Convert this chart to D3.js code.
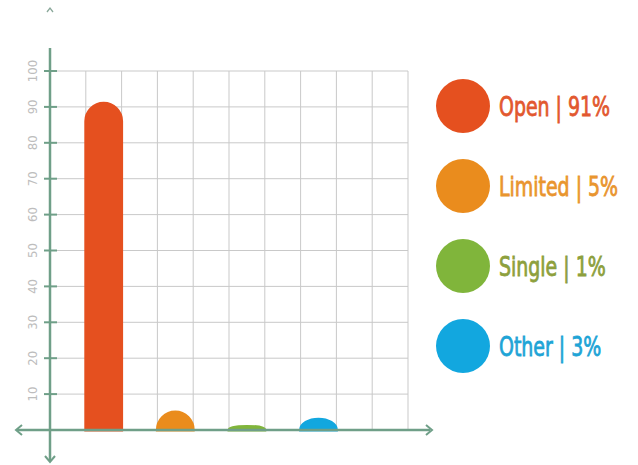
<!DOCTYPE html>
<html>
<head>
<meta charset="utf-8">
<script src="https://cdn.jsdelivr.net/npm/d3@7"></script>
<style>
  body { margin: 0; background: #fff; }
  .tick-label { font-family: "DejaVu Sans Condensed", "DejaVu Sans", sans-serif; font-size: 13px; fill: #bdbdbd; }
  .legend-text { font-family: "DejaVu Sans Condensed", "DejaVu Sans", sans-serif; font-size: 27px; stroke-width: 0.8px; }
</style>
</head>
<body>
<div id="chart"></div>
<script>
var categories = ["Open", "Limited", "Single", "Other"];
var values = [91, 5, 1, 3];
var colors = ["#e5501f", "#ea8c1d", "#80b53b", "#12a7df"];
var textColors = ["#e2582f", "#e9952f", "#8da03d", "#1ea4d6"];
var yTicks = [10, 20, 30, 40, 50, 60, 70, 80, 90, 100];

var width = 638;
var height = 465;
var axisColor = "#6f9f88";

var svg = d3.select("#chart").append("svg")
  .attr("width", width)
  .attr("height", height);

/* Scales */
var yScale = d3.scaleLinear()
  .domain([0, 100])
  .range([430, 71]);

// 10 grid columns, bars sit in every other column
var gridX = d3.scaleLinear()
  .domain([0, 10])
  .range([50, 408]);

var xScale = d3.scaleBand()
  .domain(categories)
  .range([gridX(1), gridX(8)])
  .paddingInner(0.5)
  .paddingOuter(0);

/* Grid */
var grid = svg.append("g").attr("class", "grid");

grid.selectAll(".hline")
  .data(yTicks).enter()
  .append("line")
  .attr("x1", gridX(0))
  .attr("x2", gridX(10))
  .attr("y1", d => yScale(d))
  .attr("y2", d => yScale(d))
  .attr("stroke", "#c9c9c9")
  .attr("stroke-width", 1);

grid.selectAll(".vline")
  .data(d3.range(1, 11)).enter()
  .append("line")
  .attr("x1", d => gridX(d))
  .attr("x2", d => gridX(d))
  .attr("y1", yScale(100))
  .attr("y2", yScale(0))
  .attr("stroke", "#c9c9c9")
  .attr("stroke-width", 1);

/* Bars with rounded tops */
function barPath(d, i) {
  var x0 = xScale(categories[i]);
  var w = xScale.bandwidth();
  var x1 = x0 + w;
  var y0 = yScale(0);
  var yt = yScale(d);
  var rx = w / 2;
  var ry = Math.min(rx, y0 - yt);
  return "M" + x0 + "," + y0 +
    "V" + (yt + ry) +
    "A" + rx + "," + ry + " 0 0 1 " + x1 + "," + (yt + ry) +
    "V" + y0 + "Z";
}

svg.append("g").attr("class", "bars")
  .selectAll("path")
  .data(values).enter()
  .append("path")
  .attr("d", barPath)
  .attr("fill", (d, i) => colors[i])
  .attr("stroke", (d, i) => colors[i])
  .attr("stroke-width", 3);

/* Axes */
var axes = svg.append("g").attr("class", "axes");

axes.append("line")
  .attr("x1", 17).attr("x2", 430)
  .attr("y1", yScale(0)).attr("y2", yScale(0))
  .attr("stroke", axisColor).attr("stroke-width", 2.5);

axes.append("line")
  .attr("x1", gridX(0)).attr("x2", gridX(0))
  .attr("y1", 48).attr("y2", 461)
  .attr("stroke", axisColor).attr("stroke-width", 2.5);

// arrow heads
var arrows = [
  "M22,425 L16,430 L22,435",
  "M426,425 L432,430 L426,435",
  "M45,456 L50,462 L55,456"
];
axes.selectAll(".arrow")
  .data(arrows).enter()
  .append("path")
  .attr("d", d => d)
  .attr("fill", "none")
  .attr("stroke", axisColor)
  .attr("stroke-width", 2);

// little caret at the top
axes.append("path")
  .attr("d", "M47,12 L50,8 L53,12")
  .attr("fill", "none")
  .attr("stroke", "#8aa89a")
  .attr("stroke-width", 1.3);

// tick marks
axes.selectAll(".tick-mark")
  .data(yTicks).enter()
  .append("line")
  .attr("x1", 44).attr("x2", 57)
  .attr("y1", d => yScale(d))
  .attr("y2", d => yScale(d))
  .attr("stroke", axisColor)
  .attr("stroke-width", 2);

// rotated tick labels
axes.selectAll(".tick-label")
  .data(yTicks).enter()
  .append("text")
  .attr("class", "tick-label")
  .attr("text-anchor", "middle")
  .attr("transform", d => "translate(37," + yScale(d) + ") rotate(-90)")
  .text(d => d);

/* Legend */
var legendY = d3.scalePoint()
  .domain(categories)
  .range([106, 346]);

var legend = svg.append("g").attr("class", "legend")
  .selectAll("g")
  .data(categories).enter()
  .append("g")
  .attr("transform", d => "translate(0," + legendY(d) + ")");

legend.append("circle")
  .attr("cx", 463)
  .attr("cy", 0)
  .attr("r", 27)
  .attr("fill", (d, i) => colors[i]);

// condensed look: squeeze the text horizontally
legend.append("text")
  .attr("class", "legend-text")
  .attr("transform", "translate(499,10) scale(0.78,1)")
  .attr("fill", (d, i) => textColors[i])
  .attr("stroke", (d, i) => textColors[i])
  .text((d, i) => d + " | " + values[i] + "%");
</script>
</body>
</html>
